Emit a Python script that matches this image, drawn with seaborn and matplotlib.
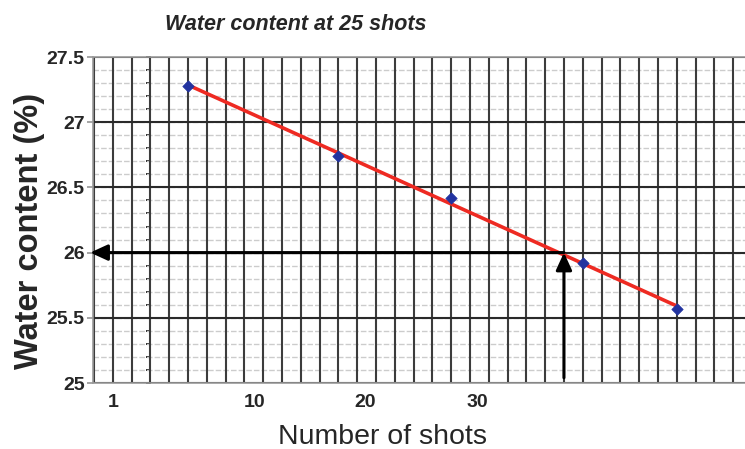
import numpy as np
import pandas as pd
import matplotlib
matplotlib.use("Agg")
import matplotlib.pyplot as plt
from matplotlib.ticker import MultipleLocator, FixedLocator
import seaborn as sns

# ---- data ----
shots = [5, 13, 19, 26, 31]
water = [27.28, 26.74, 26.42, 25.92, 25.57]
target_shots = 25
target_water = 26.0
title = "Water content at 25 shots"
xlabel = "Number of shots"
ylabel = "Water content (%)"
xtick_labels = ["1", "10", "20", "30"]
xtick_pos = [1.01, 8.56, 14.41, 20.37]
ytick_vals = [25, 25.5, 26, 26.5, 27, 27.5]
ytick_labels = ["25", "25.5", "26", "26.5", "27", "27.5"]

sns.set_theme(style="white")
plt.rcParams["font.family"] = ["Liberation Sans", "DejaVu Sans"]

df = pd.DataFrame({"shots": shots, "water": water})

fig = plt.figure(figsize=(7.45, 4.49), dpi=100)
ax = fig.add_axes([93 / 745, 1 - 383 / 449, (745 - 93) / 745, (383 - 57) / 449])

ax.set_xlim(-0.05, 34.63)
ax.set_ylim(25, 27.5)

# grid
ax.xaxis.set_minor_locator(MultipleLocator(1))
ax.yaxis.set_major_locator(FixedLocator(ytick_vals))
ax.set_yticklabels(ytick_labels)
ax.xaxis.set_major_locator(FixedLocator(xtick_pos))
ax.set_xticklabels(xtick_labels)

ax.grid(False)
ax.set_axisbelow(True)
ax.grid(which="minor", axis="x", color="#3c3c3c", lw=1.5, ls="-")
ax.grid(which="major", axis="y", color="#2a2a2a", lw=1.5, ls="-")
# light minor horizontal rules, below the vertical grid
for yv in np.arange(25.1, 27.45, 0.1):
    ax.axhline(yv, color="#cccccc", lw=1.0, ls=(0, (4, 1.5)), zorder=0.3)

# secondary dotted axis line
sec = ax.secondary_yaxis((150 - 93) / 652)
sec.yaxis.set_major_locator(MultipleLocator(0.1))
sec.tick_params(axis="y", length=3, width=1.2, color="#111111", direction="out",
                labelleft=False, labelright=False)
sec.set_yticklabels([])
sec.spines["left"].set_color("#222222")
sec.spines["left"].set_linewidth(1.3)

# data
sns.regplot(data=df, x="shots", y="water", ax=ax, ci=None, scatter=False,
            line_kws=dict(color="#ee2a22", lw=2.6, solid_capstyle="round", zorder=4))
sns.scatterplot(data=df, x="shots", y="water", ax=ax, marker="D", s=34,
                color="#2233a0", edgecolor="#2233a0", zorder=5)

# arrows
arrow = dict(arrowstyle="-|>,head_length=0.7,head_width=0.32", lw=2.2, color="black",
             shrinkA=0, shrinkB=0, mutation_scale=15)
ax.annotate("", xy=(-0.2, target_water), xytext=(target_shots, target_water),
            arrowprops=arrow, annotation_clip=False, zorder=6)
ax.annotate("", xy=(target_shots, target_water), xytext=(target_shots, 25.04),
            arrowprops=arrow, annotation_clip=False, zorder=6)

# spines and ticks
for s in ["left", "top", "bottom"]:
    ax.spines[s].set_color("#9a9a9a")
    ax.spines[s].set_linewidth(1.2)
ax.spines["right"].set_visible(False)
ax.tick_params(axis="y", which="major", length=4, color="#9a9a9a", left=True, pad=2,
               labelsize=14)
ax.tick_params(axis="y", which="minor", length=0)
ax.tick_params(axis="x", which="both", length=0, pad=8, labelsize=14)
for lab in ax.get_xticklabels() + ax.get_yticklabels():
    lab.set_fontweight("bold")
ax.set_xlabel("")
ax.set_ylabel("")

fig.text(296 / 745, 1 - 25 / 449, title, ha="center", va="center", fontsize=15.5,
         fontweight="bold", fontstyle="italic")
fig.text(30 / 745, 1 - 231 / 449, ylabel, ha="center", va="center", rotation=90,
         fontsize=23.5, fontweight="bold")
fig.text(383 / 745, 1 - 437 / 449, xlabel, ha="center", va="center", fontsize=20.5)

fig.savefig("out.png", dpi=100)
